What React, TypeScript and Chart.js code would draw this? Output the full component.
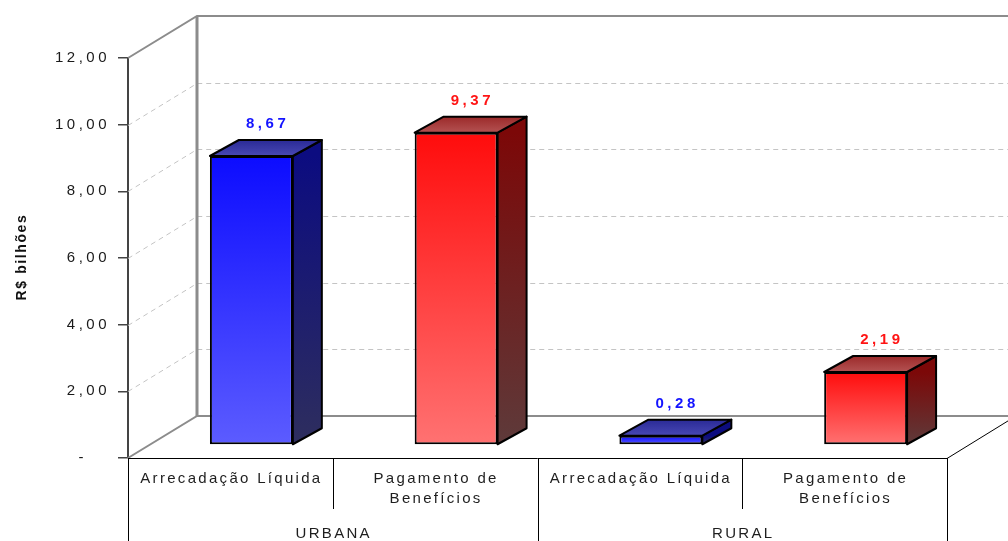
import React, { useEffect, useRef } from 'react';
import { Chart, registerables } from 'chart.js';

Chart.register(...registerables);

// ---- data ----
const groups = ['URBANA', 'RURAL'];
const subcategories = [['Arrecadação Líquida'], ['Pagamento de', 'Benefícios']];
const arrecadacao = [8.67, 0.28];
const pagamento = [9.37, 2.19];
const yTickValues = [0, 2, 4, 6, 8, 10, 12];
const yAxisTitle = 'R$ bilhões';

// ---- derived ----
const barLabels = groups.flatMap((g) => subcategories.map((s) => g + ' - ' + s.join(' ')));
const barValues = groups.flatMap((_, i) => [arrecadacao[i], pagamento[i]]);

// ---- 3D geometry (style) ----
const FX = 21, FY = -13; // bar front face offset from front plane
const DX = 29, DY = -16; // bar depth
const WX = 69, WY = -42; // full wall depth

const palette = {
  blue: { f1: '#0c0cff', f2: '#5c5cff', s1: '#0c0c80', s2: '#2e2e5e', t1: '#2a2a96', t2: '#4848b4', label: '#1414ff' },
  red: { f1: '#ff0c0c', f2: '#ff7272', s1: '#7c0808', s2: '#5e3a3a', t1: '#9c2a2a', t2: '#b45252', label: '#ff1414' },
};
const pal = (i: number) => (i % 2 === 0 ? palette.blue : palette.red);
const fmt = (v: number) => v.toFixed(2).replace('.', ',');

const threeD = {
  id: 'threeD',
  beforeDraw(chart: any) {
    chart.ctx.letterSpacing = '3.5px';
  },
  beforeDatasetsDraw(chart: any) {
    const ctx = chart.ctx;
    ctx.letterSpacing = '0px';
    const { left, right, top, bottom } = chart.chartArea;
    const y = chart.scales.y;
    ctx.save();
    // dashed gridlines on left wall and back wall
    ctx.strokeStyle = '#c4c4c4';
    ctx.lineWidth = 1;
    ctx.setLineDash([5, 4]);
    for (const t of yTickValues) {
      if (t === y.min || t === y.max) continue;
      const py = Math.round(y.getPixelForValue(t)) + 0.5;
      ctx.beginPath();
      ctx.moveTo(left, py);
      ctx.lineTo(left + WX, py + WY);
      ctx.lineTo(right + WX, py + WY);
      ctx.stroke();
    }
    ctx.setLineDash([]);
    // walls
    ctx.strokeStyle = '#8c8c8c';
    ctx.lineWidth = 2;
    ctx.beginPath();
    ctx.moveTo(left, top);
    ctx.lineTo(left + WX, top + WY);
    ctx.lineTo(right + WX + 10, top + WY);
    ctx.stroke();
    ctx.lineWidth = 3;
    ctx.beginPath();
    ctx.moveTo(left + WX, top + WY);
    ctx.lineTo(left + WX, bottom + WY);
    ctx.stroke();
    ctx.lineWidth = 2;
    ctx.beginPath();
    ctx.moveTo(left, bottom);
    ctx.lineTo(left + WX, bottom + WY);
    ctx.lineTo(right + WX + 10, bottom + WY);
    ctx.stroke();
    // front floor edge
    ctx.strokeStyle = '#000';
    ctx.lineWidth = 1;
    ctx.beginPath();
    ctx.moveTo(left, bottom + 0.5);
    ctx.lineTo(right, bottom + 0.5);
    ctx.lineTo(right + WX, bottom + WY);
    ctx.stroke();

    // bar side and top faces
    const meta = chart.getDatasetMeta(0);
    meta.data.forEach((el: any, i: number) => {
      const p = pal(i);
      const xl = el.x - el.width / 2 + FX;
      const xr = el.x + el.width / 2 + FX;
      const yt = el.y + FY;
      const yb = el.base + FY;
      ctx.lineWidth = 2;
      ctx.lineJoin = 'round';
      ctx.strokeStyle = '#000';
      // side
      let g = ctx.createLinearGradient(0, yt, 0, yb);
      g.addColorStop(0, p.s1);
      g.addColorStop(1, p.s2);
      ctx.fillStyle = g;
      ctx.beginPath();
      ctx.moveTo(xr, yt);
      ctx.lineTo(xr + DX, yt + DY);
      ctx.lineTo(xr + DX, yb + DY);
      ctx.lineTo(xr, yb);
      ctx.closePath();
      ctx.fill();
      ctx.stroke();
      // top
      g = ctx.createLinearGradient(0, yt + DY, 0, yt);
      g.addColorStop(0, p.t1);
      g.addColorStop(1, p.t2);
      ctx.fillStyle = g;
      ctx.beginPath();
      ctx.moveTo(xl, yt);
      ctx.lineTo(xl + DX, yt + DY);
      ctx.lineTo(xr + DX, yt + DY);
      ctx.lineTo(xr, yt);
      ctx.closePath();
      ctx.fill();
      ctx.stroke();
    });
    ctx.restore();
    ctx.save();
    ctx.translate(FX, FY);
  },
  afterDatasetsDraw(chart: any) {
    const ctx = chart.ctx;
    ctx.restore();
    const meta = chart.getDatasetMeta(0);
    ctx.save();
    ctx.font = 'bold 15px "Liberation Sans", Arial, sans-serif';
    ctx.letterSpacing = '3.5px';
    ctx.textAlign = 'center';
    ctx.textBaseline = 'middle';
    meta.data.forEach((el: any, i: number) => {
      ctx.fillStyle = pal(i).label;
      ctx.fillText(fmt(barValues[i]), el.x + FX + DX / 2 + 1.75, el.y + FY + DY - 16);
    });
    ctx.restore();
  },
  afterDraw(chart: any) {
    const ctx = chart.ctx;
    const x = chart.scales.x;
    const { left, right, top, bottom } = chart.chartArea;
    const H = chart.height;
    ctx.save();
    ctx.letterSpacing = '0px';
    // category dividers
    const n = barValues.length;
    const bounds: number[] = [left];
    for (let i = 0; i < n - 1; i++) bounds.push((x.getPixelForValue(i) + x.getPixelForValue(i + 1)) / 2);
    bounds.push(right);
    ctx.strokeStyle = '#000';
    ctx.lineWidth = 1;
    bounds.forEach((bx, k) => {
      const px = Math.round(bx) + 0.5;
      ctx.beginPath();
      ctx.moveTo(px, bottom);
      ctx.lineTo(px, k % subcategories.length === 0 ? H : bottom + 51);
      ctx.stroke();
    });
    // category labels
    ctx.fillStyle = '#1e1e1e';
    ctx.font = '15px "Liberation Sans", Arial, sans-serif';
    ctx.letterSpacing = '2.3px';
    ctx.textAlign = 'center';
    ctx.textBaseline = 'middle';
    for (let i = 0; i < n; i++) {
      const lines = subcategories[i % subcategories.length];
      lines.forEach((ln, j) => {
        ctx.fillText(ln, x.getPixelForValue(i) + 1, bottom + 21 + j * 19.5);
      });
    }
    groups.forEach((g, gi) => {
      const a = bounds[gi * subcategories.length];
      const b = bounds[(gi + 1) * subcategories.length];
      ctx.fillText(g, (a + b) / 2 + 1, bottom + 76);
    });
    // y title
    ctx.translate(22, (top + bottom) / 2);
    ctx.rotate(-Math.PI / 2);
    ctx.font = 'bold 14px "Liberation Sans", Arial, sans-serif';
    ctx.letterSpacing = '1.6px';
    ctx.fillStyle = '#111';
    ctx.fillText(yAxisTitle, 1, 0);
    ctx.restore();
  },
};

function frontColor(c: any) {
  const p = pal(c.dataIndex);
  const chart = c.chart;
  if (!chart.chartArea || !chart.scales || !chart.scales.y) return p.f1;
  const y = chart.scales.y;
  const t = y.getPixelForValue(c.raw);
  const b = y.getPixelForValue(0);
  const g = chart.ctx.createLinearGradient(0, t, 0, b);
  g.addColorStop(0, p.f1);
  g.addColorStop(1, p.f2);
  return g;
}

export default function App() {
  const ref = useRef<HTMLCanvasElement>(null);
  useEffect(() => {
    if (!ref.current) return;
    Chart.defaults.font.family = '"Liberation Sans", Arial, sans-serif';
    const chart = new Chart(ref.current, {
      type: 'bar',
      data: {
        labels: barLabels,
        datasets: [
          {
            data: barValues,
            backgroundColor: frontColor as any,
            borderColor: '#000',
            borderWidth: 2,
            borderSkipped: false,
            barPercentage: 0.405,
            categoryPercentage: 1,
            clip: false as any,
          },
        ],
      },
      options: {
        responsive: false,
        animation: false,
        devicePixelRatio: 1,
        layout: { padding: { top: 58, right: 61, bottom: 83, left: 0 } },
        plugins: { legend: { display: false }, tooltip: { enabled: false }, title: { display: false } },
        scales: {
          x: { type: 'category', display: false, offset: true },
          y: {
            type: 'linear',
            min: 0,
            max: 12,
            afterFit: (s: any) => {
              s.width = 128;
            },
            afterBuildTicks: (s: any) => {
              s.ticks = yTickValues.map((v) => ({ value: v }));
            },
            ticks: {
              padding: 8,
              color: '#1a1a1a',
              font: { size: 15 },
              callback: (v: any) => (Number(v) === 0 ? '-   ' : fmt(Number(v))),
            },
            grid: { drawOnChartArea: false, drawTicks: true, tickLength: 10, color: '#444', lineWidth: 1.5 },
            border: { display: true, color: '#444', width: 2 },
          },
        },
      },
      plugins: [threeD],
    });
    return () => chart.destroy();
  }, []);
  return (
    <div style={{ position: 'fixed', left: 0, top: 0, width: 1008, height: 541, background: '#fff' }}>
      <canvas ref={ref} width={1008} height={541} style={{ display: 'block' }} />
    </div>
  );
}
